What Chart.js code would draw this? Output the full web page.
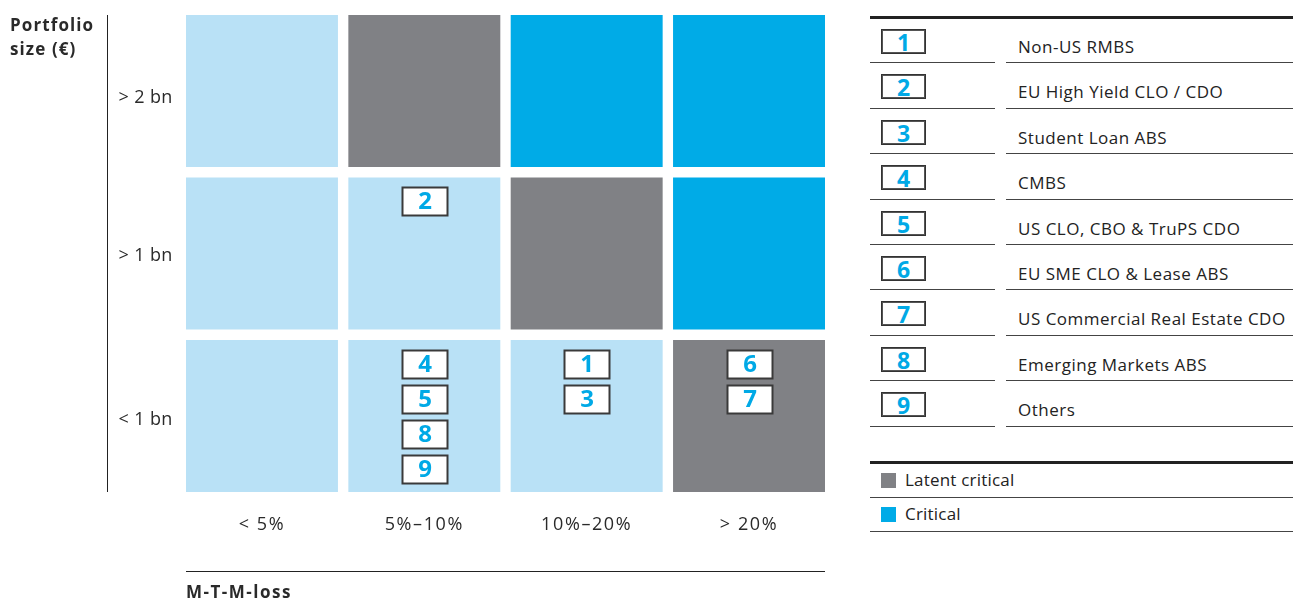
<!DOCTYPE html>
<html>
<head>
<meta charset="utf-8">
<script src="https://cdn.jsdelivr.net/npm/chart.js@4/dist/chart.umd.min.js"></script>
<style>
  html, body { margin:0; padding:0; background:#fff; }
  body { width:1293px; height:599px; position:relative; overflow:hidden; font-family:"Open Sans", "Noto Sans", sans-serif; color:#222; }
  #wrap { position:absolute; left:0; top:0; width:860px; height:599px; }
  .abs { position:absolute; }
  .ytitle { left:10px; top:13px; font-weight:700; font-size:17px; line-height:24px; letter-spacing:1.1px; color:#2a2a2a; }
  .vaxis { left:107px; top:15px; width:1px; height:477px; background:#222; }
  .hline { left:186px; top:571px; width:639px; height:1px; background:#222; }
  .xtitle { left:186px; top:581px; font-weight:700; font-size:17px; line-height:22px; letter-spacing:1.5px; color:#2a2a2a; }
  .thick { height:3px; background:#222; }
  .thin { height:1px; background:#444; }
  .lbox { width:43px; height:23px; border:1px solid #333; box-shadow:0 0 0 1px #555 inset; background:#fff; color:#00a9e6; font-weight:700; font-size:23px; line-height:24px; text-align:center; }
  .ltext { font-size:17px; line-height:22px; color:#222; white-space:nowrap; letter-spacing:0.5px; }
  .stext { font-size:17px; line-height:22px; color:#222; white-space:nowrap; letter-spacing:0.2px; }
  .sw { width:15px; height:15px; }
</style>
</head>
<body>
<div id="wrap"><canvas id="c" width="860" height="599"></canvas></div>
<div class="abs ytitle">Portfolio<br>size (€)</div>
<div class="abs vaxis"></div>
<div class="abs hline"></div>
<div class="abs xtitle">M-T-M-loss</div>
<div id="legend"></div>
<script>
// ---- data ----
const lossCategories = ['< 5%', '5%–10%', '10%–20%', '> 20%'];
const sizeRows = ['< 1 bn', '> 1 bn', '> 2 bn'];          // bottom to top
const sizeRowTickPos = [0.475, 1.488, 2.455];
// status per row (bottom to top), per loss category: 0 = normal, 1 = latent critical, 2 = critical
const statusLt1bn = [0, 0, 0, 1];
const statusGt1bn = [0, 0, 1, 2];
const statusGt2bn = [0, 1, 2, 2];
// numbered segments placed in cells: [categoryIndex, rowIndex, numbers]
const cellNumbers = [
  [1, 1, [2]],
  [1, 0, [4, 5, 8, 9]],
  [2, 0, [1, 3]],
  [3, 0, [6, 7]]
];
const segmentIds = [1, 2, 3, 4, 5, 6, 7, 8, 9];
const segmentNames = ['Non-US RMBS', 'EU High Yield CLO / CDO', 'Student Loan ABS', 'CMBS',
  'US CLO, CBO & TruPS CDO', 'EU SME CLO & Lease ABS', 'US Commercial Real Estate CDO',
  'Emerging Markets ABS', 'Others'];
const statusNames = ['Latent critical', 'Critical'];

// ---- styles ----
const statusColors = ['#b9e1f6', '#808185', '#00abe7'];
const numColor = '#00a9e6';
const GAP = 0.0323;

const rowsStatus = [statusLt1bn, statusGt1bn, statusGt2bn];
const datasets = rowsStatus.map((st, r) => ({
  label: sizeRows[r],
  data: st.map(() => [r + GAP, r + 1 - GAP]),
  backgroundColor: st.map(s => statusColors[s]),
  borderWidth: 0,
  grouped: false,
  barPercentage: 1,
  categoryPercentage: 0.936
}));

const numberBoxes = {
  id: 'numberBoxes',
  afterLayout(chart) {
    const ctx = chart.ctx;
    const spacing = { x: '1.6px', y: '0.4px' };
    ['x', 'y'].forEach(id => {
      const s = chart.scales[id];
      if (s._wrapped) return;
      const orig = s.drawLabels;
      s.drawLabels = function (area) {
        ctx.save();
        try { ctx.letterSpacing = spacing[id]; } catch (e) {}
        orig.call(this, area);
        ctx.restore();
      };
      s._wrapped = true;
    });
  },
  afterDatasetsDraw(chart) {
    const ctx = chart.ctx;
    const xs = chart.scales.x, ys = chart.scales.y;
    ctx.save();
    cellNumbers.forEach(([ci, ri, nums]) => {
      const cx = xs.getPixelForValue(ci);
      const top = ys.getPixelForValue(ri + 1 - GAP);
      nums.forEach((n, k) => {
        const w = 45, h = 28;
        const x0 = Math.round(cx - w / 2) + 0.5;
        const y0 = Math.round(top + 10 + k * 35) + 0.5;
        ctx.fillStyle = '#ffffff';
        ctx.fillRect(x0, y0, w, h);
        ctx.strokeStyle = '#3a3a3a';
        ctx.lineWidth = 2;
        ctx.strokeRect(x0, y0, w, h);
        ctx.fillStyle = numColor;
        ctx.font = '700 24px "Open Sans", sans-serif';
        ctx.textAlign = 'center';
        ctx.textBaseline = 'middle';
        ctx.fillText(String(n), x0 + w / 2, y0 + h / 2 + 1);
      });
    });
    ctx.restore();
  }
};

new Chart(document.getElementById('c'), {
  type: 'bar',
  data: { labels: lossCategories, datasets },
  options: {
    responsive: false,
    animation: false,
    layout: { padding: { top: 9.75, right: 29.8, left: 0, bottom: 0 } },
    plugins: { legend: { display: false }, tooltip: { enabled: false } },
    scales: {
      x: {
        type: 'category',
        grid: { display: false, drawTicks: false },
        border: { display: false },
        ticks: { color: '#2a2a2a', font: { family: '"Open Sans", sans-serif', size: 18 }, padding: 17, maxRotation: 0 },
        afterFit(s) { s.height = 101.75; s.paddingLeft = 0; s.paddingRight = 0; }
      },
      y: {
        type: 'linear', min: 0, max: 3,
        grid: { display: false, drawTicks: false },
        border: { display: false },
        afterBuildTicks(s) { s.ticks = sizeRowTickPos.map(v => ({ value: v })); },
        ticks: {
          color: '#2a2a2a', font: { family: '"Open Sans", sans-serif', size: 18 }, padding: 8,
          callback: (v) => sizeRows[Math.floor(v)]
        },
        afterFit(s) { s.width = 180.8; s.paddingTop = 0; s.paddingBottom = 0; }
      }
    }
  },
  plugins: [numberBoxes]
});

// ---- legend (HTML) ----
const lg = document.getElementById('legend');
function add(cls, style, html) {
  const d = document.createElement('div');
  d.className = 'abs ' + cls;
  d.setAttribute('style', style);
  if (html !== undefined) d.textContent = html;
  lg.appendChild(d);
  return d;
}
add('thick', 'left:870px;top:16px;width:423px;');
const rowH = 45.4;
segmentIds.forEach((id, i) => {
  const top = 17 + i * rowH;
  add('lbox', `left:881px;top:${top + 12}px;`, String(id));
  add('ltext', `left:1018px;top:${top + 19}px;`, segmentNames[i]);
  add('thin', `left:870px;top:${Math.round(top + rowH)}px;width:125px;`);
  add('thin', `left:1006px;top:${Math.round(top + rowH)}px;width:287px;`);
});
add('thick', 'left:870px;top:461px;width:423px;');
statusNames.forEach((nm, i) => {
  const top = 463 + i * 34;
  add('sw', `left:881px;top:${top + 10}px;background:${statusColors[i + 1]};`);
  add('stext', `left:905px;top:${top + 6}px;`, nm);
  add('thin', `left:870px;top:${top + 34}px;width:423px;`);
});
</script>
</body>
</html>
